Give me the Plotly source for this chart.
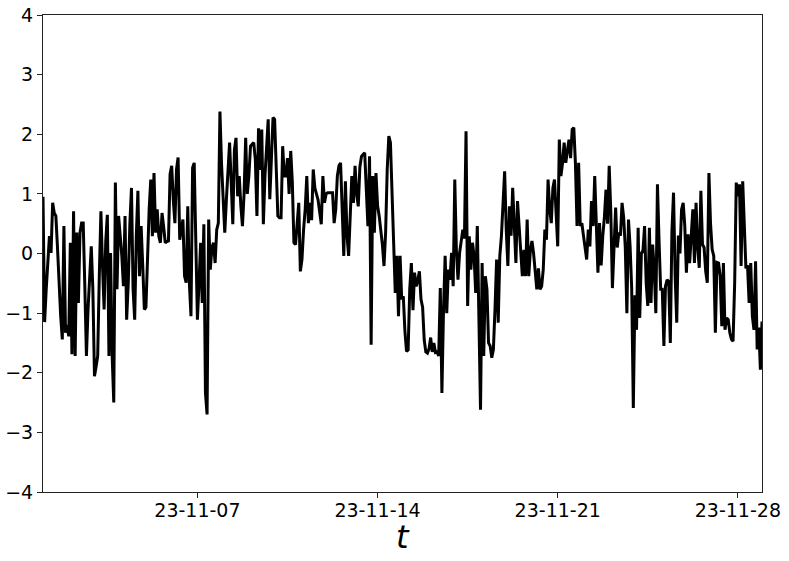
import pandas as pd
import plotly.graph_objects as go

week_1 = [
    0.95, -1.15, -0.6, -0.1, 0.29, 0.01, 0.85, 0.68, 0.63, 0.1,
    -0.6, -1.05, -1.44, 0.46, -1.33, -1.2, -1.39, 0.18, -1.69, 0.71,
    -1.72, 0.35, -0.83, 0.35, 0.51, 0.51, -0.55, -1.72, -0.94, -0.4,
    0.12, -0.6, -2.06, -1.9, -1.72, -0.38, 0.71, -0.21, -0.94, 0.2,
    0.65, -1.72, 0.01, -1.72, -2.5, 1.19, -0.6, 0.63, 0.3, -0.04,
    -0.55, 0.63, -1.11, -0.5, 0.5, 1.1, -0.6, -1.11, 0.29, 1.05,
    -0.38, 0.46, -0.2, -0.94, -0.9, 0.0, 0.74, 1.24, 0.29, 1.35,
    0.35, 0.74, 0.29, 0.18, 0.68, 0.45, 0.18, 0.2, 0.21, 1.33,
    1.47, 0.9, 0.51, 1.41, 1.61, 0.23, 0.4, 0.57, -0.38, -0.49,
    0.79, -0.5, -1.05, 1.44, 1.52, -0.16, -1.11, -0.5, 0.18, -0.83,
    0.49, -2.34, -2.7, 0.57, -0.27, 0.1, 0.18, -0.16, 0.4, 0.51,
    2.38, 1.5,
]
week_2 = [
    0.9, 0.35, 0.9, 1.3, 1.86, 1.2, 0.49, 1.74, 1.94, 0.96,
    1.3, 0.8, 0.46, 1.0, 1.94, 1.0, 1.3, 1.8, 1.83, 1.86,
    1.58, 0.63, 2.1, 1.4, 2.08, 0.49, 1.3, 1.69, 2.25, 0.91,
    1.7, 2.28, 2.25, 1.4, 0.63, 0.6, 0.6, 1.8, 1.3, 1.3,
    1.6, 1.0, 1.72, 1.2, 0.18, 0.15, 0.5, 0.85, -0.3, -0.1,
    0.4, 0.74, 1.3, 0.51, 0.85, 0.56, 1.41, 1.1, 1.0, 0.9,
    0.7, 0.49, 1.3, 0.85, 1.0, 1.02, 1.02, 1.02, 1.02, 0.51,
    0.74, 1.3, 1.47, 1.52, 0.8, -0.04, 1.21, 0.3, -0.04, 0.79,
    1.3, 0.85, 1.47, 1.0, 0.79, 1.45, 1.63, 1.66, 1.69, 1.07,
    0.46, 1.63, -1.53, 1.3, 0.35, 1.35, 0.8, 0.63, 0.4, 0.15,
    -0.21, 0.35, 1.41, 1.97, 1.86, 0.79, 0.18, -0.66, -0.04, -1.05,
    -0.04, -0.77,
]
week_3 = [
    -0.72, -1.3, -1.64, -1.62, -0.6, -0.16, -0.95, -0.32, -0.55, -0.45,
    -0.3, -0.77, -0.9, -1.45, -1.65, -1.67, -1.6, -1.41, -1.65, -1.5,
    -1.66, -1.65, -1.72, -0.58, -2.34, -0.94, -0.04, -1.0, -0.27, -0.44,
    0.01, -0.55, 1.24, 0.05, -0.44, 0.01, 0.18, 0.4, 0.25, 2.05,
    -0.88, 0.29, -0.27, 0.18, -0.04, -0.66, 0.46, -0.94, -2.62, -0.16,
    -1.72, -0.38, -0.6, -1.5, -1.55, -1.75, -1.61, -0.94, -0.1, -1.16,
    -0.04, 0.29, 0.91, 1.38, 0.4, -0.21, 0.79, 0.3, 1.1, 0.3,
    -0.16, 0.88, 0.51, 0.0, -0.38, 0.06, -0.38, 0.57, -0.38, 0.06,
    0.21, 0.0, -0.27, -0.6, -0.25, -0.6, -0.55, -0.27, 0.4, 0.23,
    1.24, 0.74, 0.51, 1.1, 1.24, 0.51, 0.12, 1.91, 1.3, 1.52,
    1.86, 1.52, 1.7, 1.91, 1.6, 2.08, 2.11, 1.52, 0.46, 1.52,
    0.46, 0.51,
]
week_4 = [
    0.3, 0.1, -0.1, 0.4, 0.12, 0.88, 0.46, 1.3, 0.5, -0.32,
    0.51, -0.2, 0.29, 0.6, 1.07, 0.5, 1.47, 0.7, -0.58, 0.18,
    0.77, 0.1, 0.35, 0.3, 0.85, 0.6, 0.1, -1.0, 0.57, 0.12,
    -0.6, -2.59, -0.7, -1.28, 0.43, -1.08, 0.0, 0.05, 0.46, -0.5,
    -0.88, 0.43, -0.83, 0.15, -0.27, -1.0, 1.16, 0.2, -0.6, -0.6,
    -1.55, -0.55, -0.44, -0.47, -1.5, 0.37, 1.02, -0.38, -1.16, 0.3,
    0.0, 0.74, 0.85, 0.46, -0.32, 0.32, -0.16, 0.29, 0.74, -0.16,
    0.85, 0.1, -0.24, 1.05, 0.15, 0.1, -0.3, -0.49, 1.35, 0.5,
    0.07, -0.04, -1.33, -0.15, -0.16, -0.38, -1.22, -0.16, -1.28, -1.08,
    -1.11, -1.33, -1.44, -1.47, -0.5, 1.19, 0.96, 1.16, -0.21, 1.21,
    0.46, -0.25, -0.2, -0.83, -0.16, -1.05, -1.28, -0.13, -1.61, -1.24,
    -1.95, -1.14,
]

start_time = "2023-11-01 00:00"
sample_freq = "90min"
tick_dates = ["2023-11-07", "2023-11-14", "2023-11-21", "2023-11-28"]
y_ticks = [-4, -3, -2, -1, 0, 1, 2, 3, 4]


def build_series() -> pd.DataFrame:
    values = week_1 + week_2 + week_3 + week_4
    times = pd.date_range(start_time, periods=len(values), freq=sample_freq)
    return pd.DataFrame({'t': times, 'value': values})


def plot_series(dataframe: pd.DataFrame) -> go.Figure:
    fig = go.Figure()
    fig.add_trace(
        go.Scatter(
            x=dataframe['t'],
            y=dataframe['value'],
            mode='lines',
            line=dict(color='black', width=3),
            hoverinfo='skip',
        )
    )
    axis_style = dict(
        showline=True,
        mirror=True,
        linecolor='#222222',
        linewidth=1,
        showgrid=False,
        zeroline=False,
        ticks='outside',
        ticklen=5,
        tickwidth=1,
        tickcolor='#222222',
        tickfont=dict(size=19, color='black'),
    )
    fig.update_xaxes(
        range=[dataframe['t'].iloc[0], dataframe['t'].iloc[-1]],
        tickvals=tick_dates,
        tickformat='%y-%m-%d',
        ticklabelstandoff=-4,
        **axis_style,
    )
    fig.update_yaxes(
        range=[-4, 4],
        tickvals=y_ticks,
        **axis_style,
    )
    # axis label as an annotation so it can sit closer to the tick labels
    fig.add_annotation(
        text='<i>t</i>',
        xref='paper', yref='paper',
        x=0.5, y=0,
        xanchor='center', yanchor='middle',
        yshift=-45,
        showarrow=False,
        font=dict(size=32, color='black'),
    )
    fig.update_layout(
        width=789,
        height=561,
        margin=dict(l=43, r=27, t=15, b=69, autoexpand=False),
        plot_bgcolor='white',
        paper_bgcolor='white',
        showlegend=False,
        font=dict(family='DejaVu Sans', color='black'),
    )
    return fig


if __name__ == "__main__":
    df = build_series()
    fig = plot_series(df)
    # drop the default page margin so the figure sits at the window corner
    fig.write_html(
        "out.html",
        config={'displayModeBar': False},
        post_script="document.body.style.margin = '0';",
    )
